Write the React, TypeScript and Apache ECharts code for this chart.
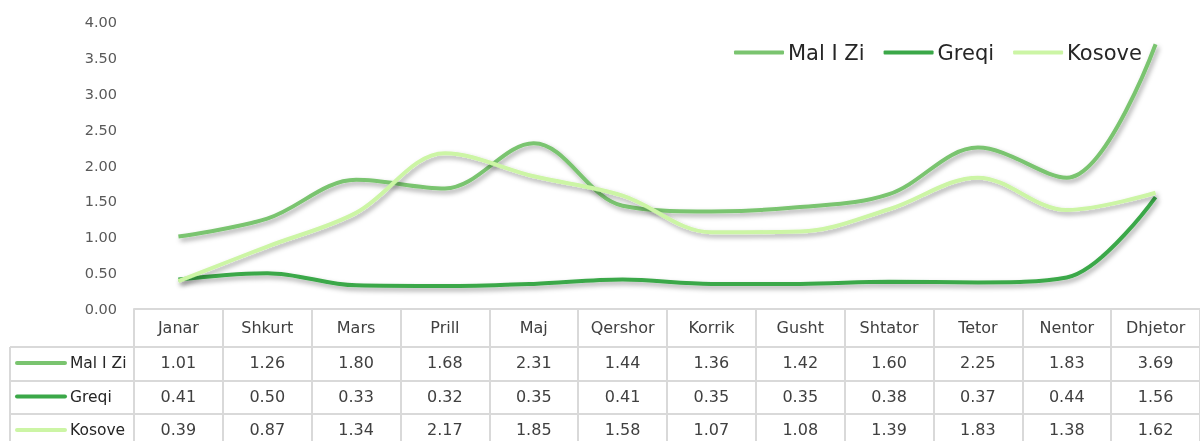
import React, { useEffect, useRef } from "react";
import * as echarts from "echarts";

const months = ["Janar", "Shkurt", "Mars", "Prill", "Maj", "Qershor", "Korrik", "Gusht", "Shtator", "Tetor", "Nentor", "Dhjetor"];
const seriesNames = ["Mal I Zi", "Greqi", "Kosove"];
const maliZi = [1.01, 1.26, 1.8, 1.68, 2.31, 1.44, 1.36, 1.42, 1.6, 2.25, 1.83, 3.69];
const greqi = [0.41, 0.5, 0.33, 0.32, 0.35, 0.41, 0.35, 0.35, 0.38, 0.37, 0.44, 1.56];
const kosove = [0.39, 0.87, 1.34, 2.17, 1.85, 1.58, 1.07, 1.08, 1.39, 1.83, 1.38, 1.62];
const colors = ["#7ac46f", "#3ba848", "#ccf5a5"];
const yTicks = { min: 0, max: 4, interval: 0.5 };

const FONT = "'DejaVu Sans', sans-serif";
const GRID_LEFT = 134;
const GRID_WIDTH = 1072;
const GRID_TOP = 22;
const GRID_HEIGHT = 287;
const ROW_OFFSETS = [34, 68, 101];
const ROW_LINES = [347, 381, 414];
const GRAY = "#d9d9d9";
const TEXT = "#404040";

export default function App() {
  const ref = useRef<HTMLDivElement>(null);
  useEffect(() => {
    if (!ref.current) return;
    const chart = echarts.init(ref.current, null, { renderer: "svg" });
    const data = [maliZi, greqi, kosove];

    const rowAxes = data.map((vals, i) => ({
      type: "category",
      data: months,
      position: "bottom",
      offset: ROW_OFFSETS[i],
      axisLine: { show: false },
      axisTick: { show: false },
      axisLabel: {
        margin: 11,
        fontSize: 16,
        color: TEXT,
        fontFamily: FONT,
        interval: 0,
        formatter: (_v: string, idx: number) => vals[idx].toFixed(2),
      },
    }));

    const graphics: any[] = [];
    ROW_LINES.forEach((y) => {
      graphics.push({
        type: "line",
        shape: { x1: 10, y1: y, x2: 1200, y2: y },
        style: { stroke: GRAY, lineWidth: 2 },
      });
    });
    graphics.push({
      type: "line",
      shape: { x1: 10, y1: ROW_LINES[0], x2: 10, y2: 441 },
      style: { stroke: GRAY, lineWidth: 2 },
    });
    seriesNames.forEach((name, i) => {
      const cy = ROW_LINES[0] + 16 + i * 33.5;
      graphics.push({
        type: "line",
        shape: { x1: 17, y1: cy, x2: 65, y2: cy },
        style: { stroke: colors[i], lineWidth: 4, lineCap: "round" },
      });
      graphics.push({
        type: "text",
        x: 70,
        y: cy,
        style: { text: name, fontSize: 15.5, fill: "#262626", fontFamily: FONT, verticalAlign: "middle", textAlign: "left" },
      });
    });

    chart.setOption({
      animation: false,
      grid: { left: GRID_LEFT, width: GRID_WIDTH, top: GRID_TOP, height: GRID_HEIGHT, containLabel: false },
      legend: {
        left: 734,
        top: 42,
        padding: 0,
        itemWidth: 50,
        itemHeight: 4,
        itemGap: 19,
        icon: "roundRect",
        textStyle: { fontSize: 21, color: "#262626", fontFamily: FONT, padding: [0, 0, 0, -1] },
        data: seriesNames,
      },
      xAxis: [
        {
          type: "category",
          data: months,
          boundaryGap: true,
          axisLine: { show: true, lineStyle: { color: GRAY, width: 2 } },
          axisTick: { show: true, length: 135, lineStyle: { color: GRAY, width: 2 } },
          axisLabel: { margin: 10, fontSize: 16, color: TEXT, fontFamily: FONT, interval: 0 },
        },
        ...rowAxes,
      ],
      yAxis: {
        type: "value",
        min: yTicks.min,
        max: yTicks.max,
        interval: yTicks.interval,
        splitLine: { show: false },
        axisLine: { show: false },
        axisTick: { show: false },
        axisLabel: {
          margin: 17,
          fontSize: 14.5,
          color: "#595959",
          fontFamily: FONT,
          formatter: (v: number) => v.toFixed(2),
        },
      },
      series: data.map((vals, i) => ({
        name: seriesNames[i],
        type: "line",
        data: vals,
        smooth: 0.35,
        showSymbol: false,
        symbol: "none",
        color: colors[i],
        lineStyle: {
          width: 4,
          color: colors[i],
          shadowColor: "rgba(0,0,0,0.35)",
          shadowBlur: 5,
          shadowOffsetX: 2,
          shadowOffsetY: 3,
        },
      })),
      graphic: graphics,
    });
    return () => chart.dispose();
  }, []);
  return <div ref={ref} style={{ position: "fixed", left: 0, top: 0, width: 1200, height: 441 }} />;
}
